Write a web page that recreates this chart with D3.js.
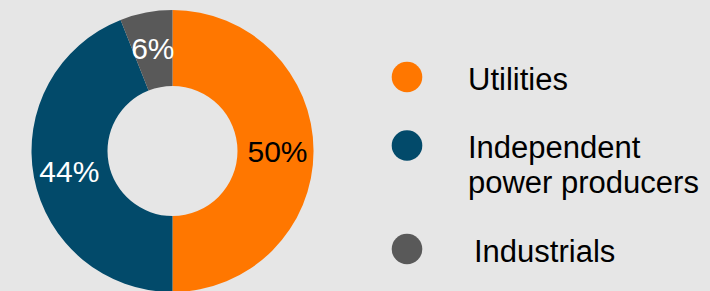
<!DOCTYPE html>
<html><head><meta charset="utf-8">
<script src="https://cdn.jsdelivr.net/npm/d3@7/dist/d3.min.js"></script>
<style>
html,body{margin:0;padding:0;background:#e6e6e6;}
svg{display:block;font-family:"Liberation Sans",Arial,sans-serif;}
</style></head>
<body>
<script>
const categories = ["Utilities", "Independent power producers", "Industrials"];
const legendLines = [["Utilities"], ["Independent", "power producers"], ["Industrials"]];
const values = [50, 44, 6];
const labels = ["50%", "44%", "6%"];
const colors = ["#ff7700", "#024a6a", "#595959"];
const labelColors = ["#000000", "#ffffff", "#ffffff"];

const W = 710, H = 291;
const svg = d3.select("body").append("svg").attr("width", W).attr("height", H);
svg.append("rect").attr("width", W).attr("height", H).attr("fill", "#e6e6e6");

const cx = 172.5, cy = 151, R = 141, r0 = 65;
const pie = d3.pie().sort(null).value(d => d);
const arcs = pie(values);
const arc = d3.arc().innerRadius(r0).outerRadius(R);
const labelArc = d3.arc().innerRadius(r0 + 2).outerRadius(R + 2);

const g = svg.append("g").attr("transform", `translate(${cx},${cy})`);
g.selectAll("path").data(arcs).join("path")
  .attr("d", arc).attr("fill", (d, i) => colors[i]);

g.selectAll("text").data(arcs).join("text")
  .attr("x", d => labelArc.centroid(d)[0])
  .attr("y", d => labelArc.centroid(d)[1])
  .attr("dy", "0.38em")
  .attr("text-anchor", "middle")
  .attr("font-size", 30)
  .attr("fill", (d, i) => labelColors[i])
  .text((d, i) => labels[i]);

// legend
const yCenters = [77, 145.5, 249];
const lg = svg.append("g");
const items = lg.selectAll("g").data(categories).join("g")
  .attr("transform", (d, i) => `translate(407,${yCenters[i]})`);
items.append("circle").attr("r", 15.3).attr("fill", (d, i) => colors[i]);
items.append("text")
  .attr("x", (d, i) => i === 2 ? 67 : 61)
  .attr("y", 12.5)
  .attr("font-size", 31)
  .attr("fill", "#000")
  .selectAll("tspan").data((d, i) => legendLines[i]).join("tspan")
  .attr("x", function() { return d3.select(this.parentNode).attr("x"); })
  .attr("dy", (d, j) => j === 0 ? 0 : 35)
  .text(d => d);
</script>
</body></html>
